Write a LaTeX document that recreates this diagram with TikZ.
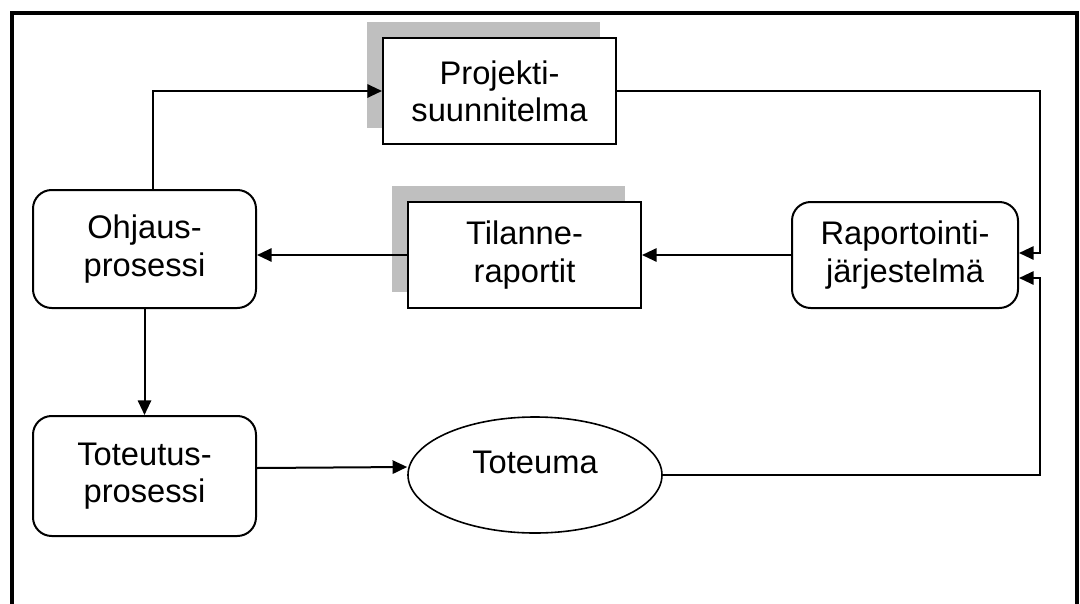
\documentclass[tikz,border=0pt]{standalone}
\usepackage{fontspec}
\setmainfont{Liberation Sans}
\usepackage{tikz}
\usetikzlibrary{arrows.meta,shapes,shadows}
\tikzstyle{lohko}=[draw,line width=1.5pt,align=center,inner sep=0pt,
                   font=\fontsize{24.5}{28}\selectfont]
\tikzstyle{varjo}=[lohko,fill=white,drop shadow={shadow xshift=-12pt,
                   shadow yshift=12pt,fill=gray!50,opacity=1}]
\tikzstyle{prosessi}=[lohko,rounded corners=14pt]
\tikzstyle{tulos}=[lohko,ellipse,line width=1.2pt]
\tikzstyle{kulku}=[-{Triangle[length=11pt,width=10pt]},line width=1.5pt]
\tikzstyle{kehys}=[line width=2.5pt]

\begin{document}
\begin{tikzpicture}[x=0.75pt,y=-0.75pt]
\useasboundingbox (0,0) rectangle (1080,603);
\draw[kehys] (12,610) -- (12,13) -- (1077,13) -- (1077,610);

\node[varjo,minimum width=174.75pt,minimum height=79.5pt] (projekti) at (499.5,91) {Projekti-\\suunnitelma};
\node[varjo,minimum width=174.75pt,minimum height=79.5pt] (tilanne) at (524.5,255) {Tilanne-\\raportit};
\node[prosessi,minimum width=167.25pt,minimum height=88.5pt] (ohjaus) at (144.5,249) {Ohjaus-\\prosessi};
\node[prosessi,minimum width=169.5pt,minimum height=79.5pt] (raportointi) at (905,255) {Raportointi-\\järjestelmä};
\node[prosessi,minimum width=167.25pt,minimum height=90pt] (toteutus) at (144.5,476) {Toteutus-\\prosessi};
\node[tulos,minimum width=190.5pt,minimum height=87pt,text depth=19pt] (toteuma) at (535,475) {Toteuma};

\coordinate (kulma1) at (1040,253);
\coordinate (kulma2) at (1040,278);

\draw[kulku] ([xshift=6.5pt]ohjaus.north) |- (projekti.west);
\draw[kulku] (projekti.east) -| (kulma1) -- (kulma1 -| raportointi.east);
\draw[kulku] (toteuma.east) -| (kulma2) -- (kulma2 -| raportointi.east);
\draw[kulku] (raportointi.west) -- (tilanne.west -| tilanne.east);
\draw[kulku] (tilanne.west) -- (tilanne.west -| ohjaus.east);
\draw[kulku] (ohjaus.south) -- (toteutus.north);
\draw[kulku] ([yshift=6pt]toteutus.east) -- ([yshift=6pt]toteuma.west);
\end{tikzpicture}
\end{document}
